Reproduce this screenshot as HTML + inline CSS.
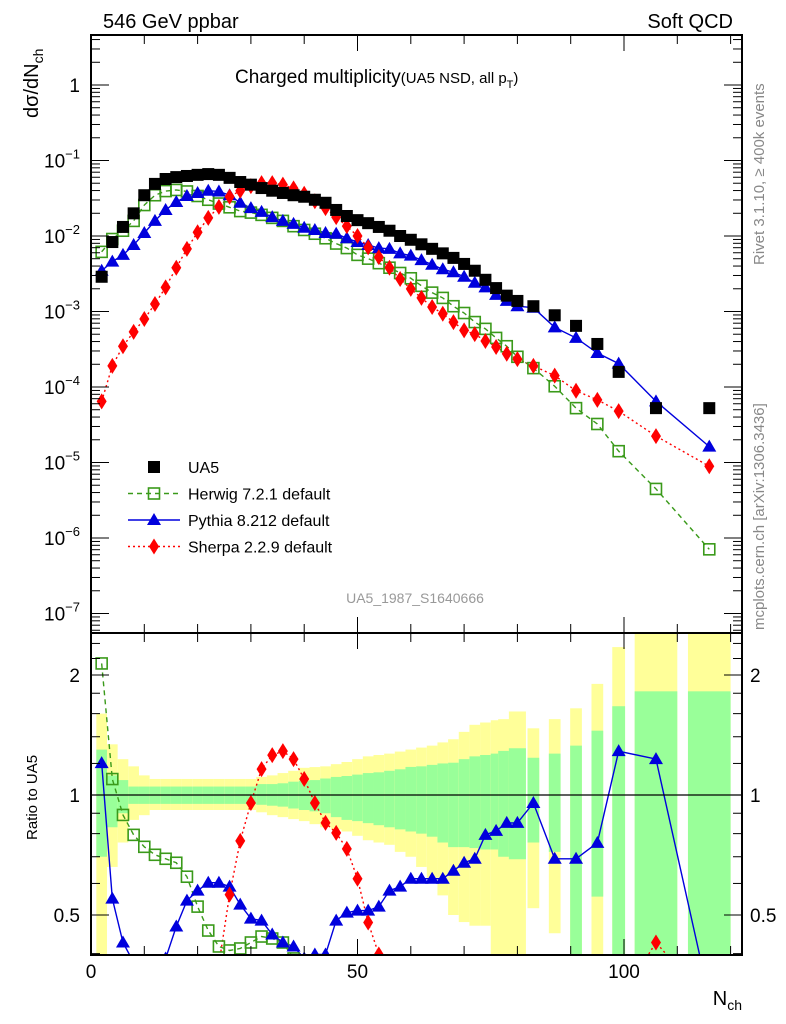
<!DOCTYPE html>
<html><head><meta charset="utf-8">
<style>
html,body{margin:0;padding:0;background:#fff;width:786px;height:1024px;overflow:hidden;}
svg{display:block;font-family:"Liberation Sans",sans-serif;}
</style></head>
<body>
<svg id="chart" width="786" height="1024" viewBox="0 0 786 1024" xmlns="http://www.w3.org/2000/svg">
<defs>
<clipPath id="clipMain"><rect x="91" y="35" width="651" height="598"/></clipPath>
<clipPath id="clipRatio"><rect x="91" y="633" width="651" height="322"/></clipPath>
</defs>
<rect x="0" y="0" width="786" height="1024" fill="#fff"/>
<g id="bands" clip-path="url(#clipRatio)"></g>
<g id="mainSeries" clip-path="url(#clipMain)"></g>
<g id="ratioSeries" clip-path="url(#clipRatio)"></g>
<g id="axes"></g>
<text x="103" y="28" font-size="20">546 GeV ppbar</text>
<text x="733" y="28" font-size="20" text-anchor="end">Soft QCD</text>
<text transform="translate(38,118) rotate(-90)" font-size="20">dσ/dN<tspan font-size="14" dy="5">ch</tspan></text>
<text x="235" y="83" font-size="19">Charged multiplicity<tspan font-size="15">(UA5 NSD, all p</tspan><tspan font-size="11" dy="5">T</tspan><tspan font-size="15" dy="-5">)</tspan></text>
<text transform="translate(764,265) rotate(-90)" font-size="15" fill="#888">Rivet 3.1.10, ≥ 400k events</text>
<text transform="translate(764,630) rotate(-90)" font-size="15" fill="#888">mcplots.cern.ch [arXiv:1306.3436]</text>
<text x="415" y="603" font-size="14" fill="#999" text-anchor="middle">UA5_1987_S1640666</text>
<text transform="translate(37,840) rotate(-90)" font-size="15">Ratio to UA5</text>
<text x="742" y="1005" font-size="20" text-anchor="end">N<tspan font-size="14" dy="5">ch</tspan></text>
<g id="legend"></g>
</svg>
<script>
const xs=[2,4,6,8,10,12,14,16,18,20,22,24,26,28,30,32,34,36,38,40,42,44,46,48,50,52,54,56,58,60,62,64,66,68,70,72,74,76,78,80,83,87,91,95,99,106,116];
const binHalf=[1,1,1,1,1,1,1,1,1,1,1,1,1,1,1,1,1,1,1,1,1,1,1,1,1,1,1,1,1,1,1,1,1,1,1,1,1,1,1.6,1.6,1.1,1.1,1.1,1.1,1.2,4,4];
const ua5Log10=[-2.54,-2.08,-1.88,-1.70,-1.46,-1.31,-1.245,-1.22,-1.205,-1.19,-1.18,-1.19,-1.23,-1.285,-1.32,-1.365,-1.40,-1.43,-1.46,-1.48,-1.52,-1.56,-1.655,-1.735,-1.79,-1.83,-1.88,-1.93,-2.00,-2.05,-2.11,-2.17,-2.23,-2.29,-2.37,-2.46,-2.58,-2.69,-2.79,-2.86,-2.93,-3.05,-3.19,-3.43,-3.80,-4.28,-4.28];
const herwigLog10=[-2.21,-2.04,-1.93,-1.80,-1.59,-1.46,-1.405,-1.39,-1.41,-1.47,-1.52,-1.57,-1.62,-1.67,-1.69,-1.72,-1.76,-1.80,-1.87,-1.92,-1.97,-2.03,-2.10,-2.16,-2.25,-2.30,-2.36,-2.42,-2.49,-2.56,-2.66,-2.75,-2.82,-2.93,-3.02,-3.14,-3.23,-3.35,-3.46,-3.60,-3.75,-3.99,-4.28,-4.49,-4.85,-5.35,-6.15];
const pythiaLog10=[-2.46,-2.34,-2.25,-2.12,-1.96,-1.80,-1.655,-1.55,-1.47,-1.43,-1.40,-1.41,-1.46,-1.56,-1.63,-1.68,-1.75,-1.80,-1.84,-1.89,-1.92,-1.96,-1.97,-2.03,-2.08,-2.12,-2.16,-2.17,-2.23,-2.26,-2.32,-2.38,-2.44,-2.48,-2.54,-2.62,-2.68,-2.78,-2.86,-2.93,-2.95,-3.21,-3.35,-3.55,-3.69,-4.19,-4.79];
const sherpaLog10=[-4.19,-3.72,-3.46,-3.27,-3.10,-2.90,-2.68,-2.42,-2.17,-1.95,-1.76,-1.615,-1.48,-1.40,-1.34,-1.30,-1.30,-1.32,-1.37,-1.44,-1.54,-1.63,-1.75,-1.87,-2.00,-2.15,-2.28,-2.42,-2.57,-2.70,-2.82,-2.94,-3.03,-3.14,-3.25,-3.30,-3.39,-3.47,-3.56,-3.63,-3.72,-3.85,-4.05,-4.17,-4.32,-4.65,-5.05];
const greenHi=[1.30,1.12,1.09,1.05,1.05,1.05,1.05,1.05,1.05,1.05,1.05,1.05,1.05,1.05,1.05,1.065,1.065,1.07,1.08,1.086,1.09,1.10,1.11,1.116,1.125,1.135,1.14,1.15,1.16,1.176,1.18,1.19,1.2,1.205,1.23,1.25,1.26,1.27,1.29,1.31,1.24,1.27,1.33,1.45,1.67,1.82,1.82];
const greenLo=[0.70,0.83,0.90,0.95,0.95,0.95,0.95,0.95,0.95,0.95,0.95,0.95,0.95,0.95,0.95,0.945,0.94,0.935,0.925,0.917,0.91,0.90,0.88,0.866,0.86,0.85,0.84,0.83,0.82,0.81,0.80,0.786,0.76,0.74,0.74,0.736,0.73,0.73,0.70,0.69,0.76,0.72,0.3,0.556,0.3,0.3,0.3];
const yellowHi=[1.6,1.34,1.23,1.18,1.12,1.097,1.097,1.097,1.097,1.097,1.097,1.097,1.097,1.097,1.097,1.11,1.12,1.135,1.15,1.17,1.175,1.18,1.195,1.21,1.23,1.25,1.26,1.27,1.285,1.30,1.315,1.33,1.355,1.38,1.44,1.5,1.52,1.54,1.55,1.62,1.47,1.55,1.65,1.9,2.35,3,3];
const yellowLo=[0.3,0.66,0.76,0.866,0.89,0.917,0.917,0.917,0.917,0.917,0.917,0.917,0.917,0.917,0.917,0.905,0.89,0.88,0.87,0.86,0.845,0.83,0.82,0.81,0.79,0.77,0.76,0.75,0.72,0.70,0.66,0.62,0.56,0.50,0.48,0.47,0.47,0.3,0.3,0.3,0.52,0.45,0.3,0.3,0.3,0.3,0.3];
const logTickLabels=["1","10","10","10","10","10","10","10"];
const logTickExps=["","−1","−2","−3","−4","−5","−6","−7"];
const xTickLabels=["0","50","100"];
const ratioTickLabels=["0.5","1","2"];

const NS="http://www.w3.org/2000/svg";
const X=v=>91+v*5.33;
const Y=l=>85-l*75.5;
const R=r=>795-Math.log2(Math.min(3.5,Math.max(0.3,r)))*120;
function mk(tag,attrs,parent){const e=document.createElementNS(NS,tag);for(const k in attrs)e.setAttribute(k,attrs[k]);parent.appendChild(e);return e;}
const bands=document.getElementById('bands');
const axes=document.getElementById('axes');
const mainG=document.getElementById('mainSeries');
const ratioG=document.getElementById('ratioSeries');
const legend=document.getElementById('legend');

xs.forEach((x,i)=>{
  const x0=X(x-binHalf[i]),w=Math.min(742,X(x+binHalf[i]))-x0;
  const y=mk('rect',{x:x0,y:R(yellowHi[i]),width:w,height:R(yellowLo[i])-R(yellowHi[i]),fill:'#ffff99'},bands);
  
  
  const g=mk('rect',{x:x0,y:R(greenHi[i]),width:w,height:R(greenLo[i])-R(greenHi[i]),fill:'#99ff99'},bands);
  
  
});
const one=mk('line',{x1:91,x2:742,y1:R(1),y2:R(1),stroke:'#000','stroke-width':1.3},axes);



function marker(kind,cx,cy,color,parent,name){
  let e;
  if(kind==='sq') e=mk('rect',{x:cx-6,y:cy-6,width:12,height:12,fill:'#000'},parent);
  else if(kind==='osq') e=mk('rect',{x:cx-5.5,y:cy-5.5,width:11,height:11,fill:'none',stroke:color,'stroke-width':1.6},parent);
  else if(kind==='tri') e=mk('polygon',{points:`${cx},${cy-7} ${cx-7},${cy+5} ${cx+7},${cy+5}`,fill:color},parent);
  else e=mk('polygon',{points:`${cx},${cy-8} ${cx-5},${cy} ${cx},${cy+8} ${cx+5},${cy}`,fill:color},parent);
  
  
  return e;
}
const models=[
 {vals:herwigLog10,color:'#3a9a1a',dash:'5,4',kind:'osq',name:'herwig'},
 {vals:pythiaLog10,color:'#0000dd',dash:'',kind:'tri',name:'pythia'},
 {vals:sherpaLog10,color:'#ff0000',dash:'2,3',kind:'dia',name:'sherpa'}
];
models.forEach(m=>{
  const pts=xs.map((x,i)=>X(x)+','+Y(m.vals[i])).join(' ');
  const l=mk('polyline',{points:pts,fill:'none',stroke:m.color,'stroke-width':1.4,'stroke-dasharray':m.dash},mainG);
  
  
  const rp=xs.map((x,i)=>X(x)+','+R(Math.pow(10,m.vals[i]-ua5Log10[i]))).join(' ');
  const rl=mk('polyline',{points:rp,fill:'none',stroke:m.color,'stroke-width':1.4,'stroke-dasharray':m.dash},ratioG);
  
  
});
models.forEach(m=>{
  xs.forEach((x,i)=>{
    marker(m.kind,X(x),Y(m.vals[i]),m.color,mainG,m.name+'-point');
    marker(m.kind,X(x),R(Math.pow(10,m.vals[i]-ua5Log10[i])),m.color,ratioG,m.name+'-ratio-point');
  });
});
xs.forEach((x,i)=>marker('sq',X(x),Y(ua5Log10[i]),'#000',mainG,'ua5-point'));

const f1=mk('rect',{x:91,y:35,width:651,height:598,fill:'none',stroke:'#000','stroke-width':2},axes);


const f2=mk('rect',{x:91,y:633,width:651,height:322,fill:'none',stroke:'#000','stroke-width':2},axes);


function tick(x1,y1,x2,y2){const t=mk('line',{x1,y1,x2,y2,stroke:'#000','stroke-width':1},axes);}
for(let v=0;v<=120;v+=10){
  const L=(v%50===0)?16:9,px=X(v);
  tick(px,35,px,35+L);tick(px,633,px,633-L);tick(px,633,px,633+L);tick(px,955,px,955-L);
}
xTickLabels.forEach((s,i)=>{const t=mk('text',{x:X(i*50),y:978,'font-size':19,'text-anchor':'middle'},axes);t.textContent=s;
});
for(let d=0;d>=-8;d--){
  for(let k=1;k<10;k++){
    const y=Y(d+Math.log10(k));if(y<35||y>633)continue;
    const L=k===1?18:9;tick(91,y,91+L,y);tick(742,y,742-L,y);
  }
}
logTickLabels.forEach((s,i)=>{
  const t=mk('text',{x:logTickExps[i]?62:80,y:Y(-i)+7,'font-size':19,'text-anchor':logTickExps[i]?'middle':'end'},axes);
  t.textContent=s;
  if(logTickExps[i]){const sp=mk('tspan',{'font-size':13,dy:-9},t);sp.textContent=logTickExps[i];}
  
});
[0.4,0.5,0.6,0.7,0.8,0.9,1,1.2,1.4,1.6,1.8,2,2.2,2.4].forEach(r=>{
  const y=R(r);if(y<633||y>955)return;const L=(r===0.5||r===1||r===2)?18:9;
  tick(91,y,91+L,y);tick(742,y,742-L,y);
});
ratioTickLabels.forEach((s,i)=>{
  const y=R(Math.pow(2,i-1))+7;
  const a=mk('text',{x:80,y,'font-size':19,'text-anchor':'end'},axes);a.textContent=s;
  
  const b=mk('text',{x:750,y,'font-size':19},axes);b.textContent=s;
  
});
const entries=[
 {label:'UA5',kind:'sq',color:'#000',dash:null},
 {label:'Herwig 7.2.1 default',kind:'osq',color:'#3a9a1a',dash:'5,4'},
 {label:'Pythia 8.212 default',kind:'tri',color:'#0000dd',dash:''},
 {label:'Sherpa 2.2.9 default',kind:'dia',color:'#ff0000',dash:'2,3'}
];
entries.forEach((e,i)=>{
  const y=467+i*26.5;
  if(e.dash!==null){const l=mk('line',{x1:128,x2:180,y1:y,y2:y,stroke:e.color,'stroke-width':1.4,'stroke-dasharray':e.dash},legend);
  }
  marker(e.kind,154,y,e.color,legend,'legend-marker');
  const t=mk('text',{x:188,y:y+6,'font-size':16},legend);t.textContent=e.label;
  
});
</script>
</body></html>
